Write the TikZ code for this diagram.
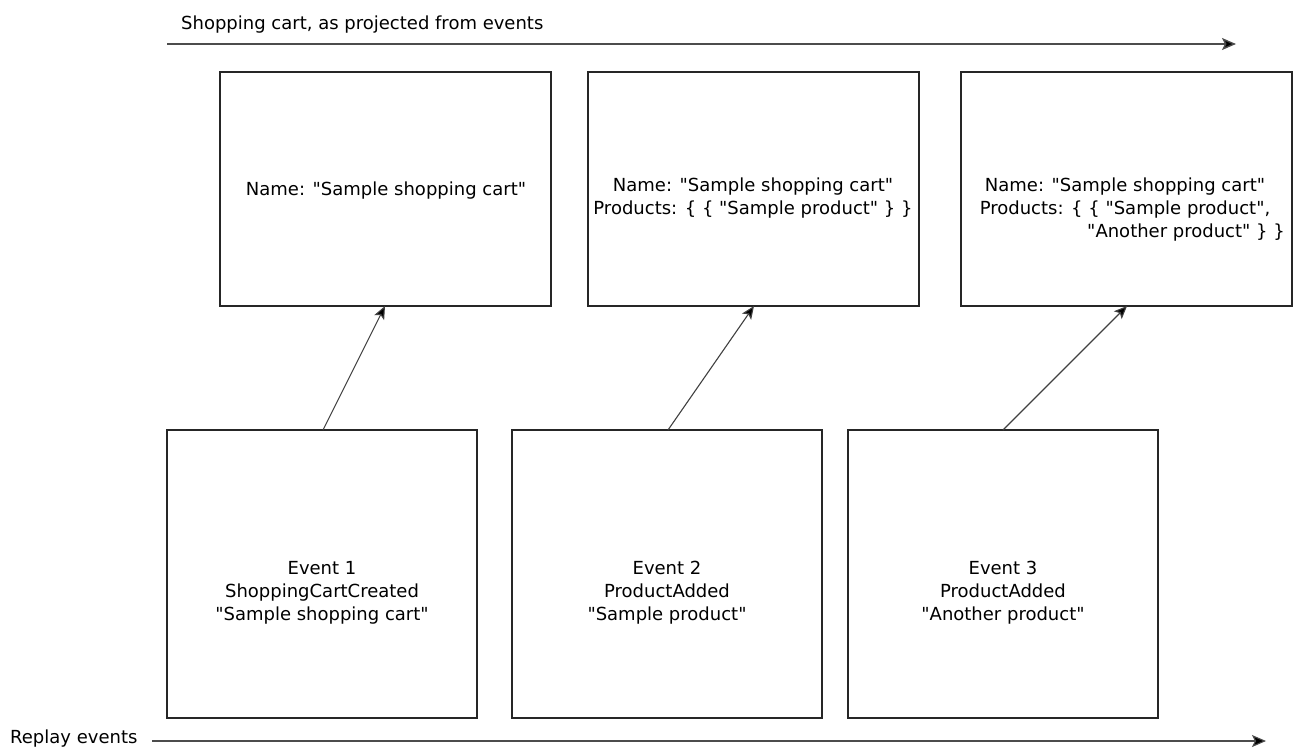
\documentclass[tikz,border=0pt]{standalone}
\usepackage{fontspec}
\setmainfont{DejaVu Sans}[Ligatures=TeXOff]
\usetikzlibrary{arrows.meta}
\begin{document}
\begin{tikzpicture}[x=1pt,y=-1pt,
  card/.style={draw=black!85,line width=1.1pt,fill=white},
  lbl/.style={font=\fontsize{18}{23}\selectfont,align=center,inner sep=0pt},
  flow/.style={draw=black!75,line width=1.1pt,-{Stealth[length=13pt,width=11pt,inset=3pt,fill=black]}},
  timeline/.style={draw=black!70,line width=1.4pt,-{Stealth[length=14pt,width=12pt,inset=3pt,fill=black]}}]
\useasboundingbox (0,0) rectangle (1293,747);

% projected states of the cart
\draw[card] (220,72) rectangle (551,306);
\draw[card] (588,72) rectangle (919,306);
\draw[card] (961,72) rectangle (1292,306);
\coordinate (s1) at (385,306);
\coordinate (s2) at (754,306);
\coordinate (s3) at (1127,306);
\node[lbl] (t1) at (386,191) {Name: "Sample shopping cart"};
\node[lbl] (t2) at (753,198) {Name: "Sample shopping cart"\\Products: \{ \{ "Sample product" \} \}};
\node[lbl] (t3) at (1125,210) {Name: "Sample shopping cart"\\Products: \{ \{ "Sample product",\\\hspace*{122pt}"Another product" \} \}};

% events
\draw[card] (167,430) rectangle (477,718);
\draw[card] (512,430) rectangle (822,718);
\draw[card] (848,430) rectangle (1158,718);
\coordinate (e1) at (323,430);
\coordinate (e2) at (668,430);
\coordinate (e3) at (1003,430);
\node[lbl] (v1) at (322,593) {Event 1\\ShoppingCartCreated\\"Sample shopping cart"};
\node[lbl] (v2) at (667,593) {Event 2\\ProductAdded\\"Sample product"};
\node[lbl] (v3) at (1003,593) {Event 3\\ProductAdded\\"Another product"};

\draw[flow] (e1) -- (s1);
\draw[flow] (e2) -- (s2);
\draw[flow] (e3) -- (s3);

% axes
\coordinate (a0) at (167,44);
\coordinate (a1) at (1236,44);
\draw[timeline] (a0) -- (a1);
\node[lbl,anchor=base west] (at) at (181,29) {Shopping cart, as projected from events};
\coordinate (b0) at (152,741);
\coordinate (b1) at (1266,741);
\draw[timeline,line width=1.1pt] (b0) -- (b1);
\node[lbl,anchor=base west] (bt) at (10,743) {Replay events};
\end{tikzpicture}
\end{document}
